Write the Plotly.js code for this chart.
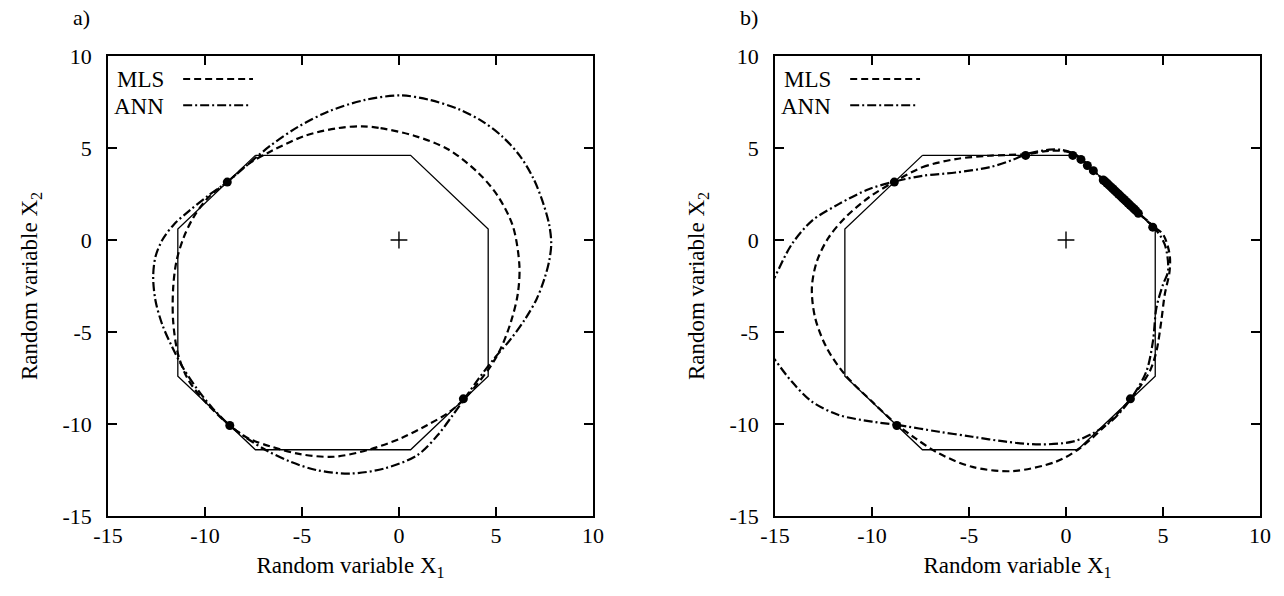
<!DOCTYPE html>
<html>
<head>
<meta charset="utf-8">
<script src="https://cdn.plot.ly/plotly-3.0.1.min.js"></script>
<style>html,body{margin:0;padding:0;background:#fff;}#chart{width:1284px;height:596px;}</style>
</head>
<body>
<div id="chart"></div>
<script>
// ---- data ----
const tickVals = [-15, -10, -5, 0, 5, 10];
const tickText = ['-15', '-10', '-5', '0', '5', '10'];

const octX = [-7.4, 0.6, 4.6, 4.6, 0.6, -7.4, -11.4, -11.4, -7.4];
const octY = [4.6, 4.6, 0.6, -7.4, -11.4, -11.4, -7.4, 0.6, 4.6];

const centerX = [0];
const centerY = [0];

// panel a)
const mlsAX = [-1.9,-0.95,0.78,2.5,4.06,5.09,5.87,6.21,6.12,5.78,5.26,4.66,3.36,2.5,1.47,0.09,-1.63,-3.36,-5.09,-6.55,-7.76,-8.72,-10,-10.86,-11.38,-11.64,-11.64,-11.47,-11.1,-10.6,-9.83,-8.85,-7.76,-6.55,-4.83,-3.1,-1.9];
const mlsAY = [6.18,6.08,5.67,4.95,3.68,2.4,0.76,-1.42,-2.96,-4.42,-5.87,-6.96,-8.65,-9.42,-10.05,-10.78,-11.42,-11.78,-11.64,-11.24,-10.78,-10.08,-8.78,-7.6,-6.24,-4.42,-2.6,-1.15,0.13,1.22,2.31,3.15,4.13,4.85,5.67,6.09,6.18];
const annAX = [0.09,1.64,3.1,4.3,5.35,6.25,6.95,7.45,7.75,7.85,7.75,7.5,7.1,6.5,5.75,4.9,4.1,3.36,2.75,2.0,0.95,-0.77,-2.5,-4.22,-5.6,-6.8,-7.8,-8.72,-9.6,-10.4,-11.1,-11.7,-12.2,-12.55,-12.67,-12.55,-12.2,-11.6,-10.8,-9.85,-8.85,-7.8,-6.6,-5.2,-3.6,-1.8,0.09];
const annAY = [7.86,7.6,7.1,6.45,5.6,4.55,3.3,1.95,0.8,-0.2,-1.1,-2.1,-3.2,-4.3,-5.4,-6.45,-7.55,-8.65,-9.55,-10.6,-11.69,-12.42,-12.69,-12.51,-12.05,-11.45,-10.8,-10.08,-9.15,-8.1,-7.0,-5.8,-4.6,-3.3,-2.0,-0.9,0.0,0.85,1.6,2.4,3.15,4.1,5.15,6.15,7.0,7.6,7.86];
const ptsAX = [-8.85, -8.72, 3.32];
const ptsAY = [3.15, -10.08, -8.63];

// panel b)
const mlsBX = [-8.83,-7.41,-5.69,-3.97,-2.03,-0.86,0,0.43,0.9,1.5,2.2,3.0,3.7,4.48,5.0,5.34,5.34,5.09,4.91,4.66,4.31,3.36,2.07,0.69,-0.52,-2.76,-4.83,-6.55,-7.76,-8.7,-10,-11.38,-12.33,-12.93,-13.1,-12.84,-12.24,-11.38,-10.17,-8.83];
const mlsBY = [3.18,3.95,4.4,4.58,4.67,4.85,4.82,4.67,4.3,3.7,3.0,2.2,1.5,0.76,0.31,-0.78,-1.69,-2.96,-4.42,-6.05,-7.15,-8.6,-10.05,-11.33,-12.05,-12.56,-12.33,-11.6,-10.78,-10.05,-8.78,-7.33,-5.87,-4.24,-2.6,-1.15,0.13,1.22,2.31,3.18];
const annBX = [-15.6,-15.03,-14.14,-13.1,-11.72,-10.17,-8.83,-7.41,-5.69,-3.97,-2.76,-2.03,-0.86,-0.17,0.43,0.9,1.5,2.2,3.0,3.7,4.48,5.09,5.26,5.0,4.66,4.48,4.14,3.36,2.41,1.38,0.34,-1.38,-3.1,-4.83,-6.55,-8.7,-10,-11.72,-13.1,-14.14,-15,-15.6];
const annBY = [-3.2,-2.05,-0.24,1.04,1.95,2.76,3.18,3.49,3.67,3.95,4.35,4.67,4.91,4.89,4.67,4.3,3.7,3.0,2.2,1.5,0.76,-0.24,-1.69,-2.42,-3.69,-5.51,-7.15,-8.6,-9.78,-10.51,-10.96,-11.11,-10.96,-10.69,-10.42,-10.05,-9.87,-9.51,-8.78,-7.69,-6.51,-5.6];
const ptsBX = [-8.85,-8.72,3.32,-2.08,0.35,0.77,1.1,1.41,1.92,2.0,2.1,2.2,2.3,2.4,2.5,2.6,2.7,2.8,2.9,3.0,3.1,3.2,3.3,3.4,3.5,3.6,3.73,4.47];
const ptsBY = [3.15,-10.08,-8.63,4.6,4.6,4.38,4.05,3.77,3.26,3.2,3.1,3.0,2.9,2.8,2.7,2.6,2.5,2.4,2.3,2.2,2.1,2.0,1.9,1.8,1.7,1.6,1.45,0.7];

const legendNames = ['MLS', 'ANN'];
const panelLabels = ['a)', 'b)'];
const xTitle = 'Random variable X<sub>1</sub>';
const yTitle = 'Random variable X<sub>2</sub>';

// ---- styles ----
const FONT = '"Liberation Serif", "Times New Roman", serif';
const TICK_SIZE = 22;
const TITLE_SIZE = 23;
const MLS_DASH = '7px,4px';
const ANN_DASH = '9px,3px,2px,3px';

function panelTraces(xa, ya, mx, my, ax, ay, px, py) {
  return [
    {x: octX, y: octY, xaxis: xa, yaxis: ya, mode: 'lines', line: {color: '#000', width: 1.3}},
    {x: mx, y: my, xaxis: xa, yaxis: ya, mode: 'lines', line: {color: '#000', width: 2.2, dash: MLS_DASH, shape: 'spline', smoothing: 0.9}},
    {x: ax, y: ay, xaxis: xa, yaxis: ya, mode: 'lines', line: {color: '#000', width: 2.2, dash: ANN_DASH, shape: 'spline', smoothing: 0.9}},
    {x: px, y: py, xaxis: xa, yaxis: ya, mode: 'markers', marker: {color: '#000', size: 9, symbol: 'circle'}},
    {x: centerX, y: centerY, xaxis: xa, yaxis: ya, mode: 'markers', marker: {color: '#000', size: 12, symbol: 'cross-thin', line: {color: '#000', width: 1.4}}}
  ];
}

const data = [].concat(
  panelTraces('x', 'y', mlsAX, mlsAY, annAX, annAY, ptsAX, ptsAY),
  panelTraces('x2', 'y2', mlsBX, mlsBY, annBX, annBY, ptsBX, ptsBY)
);

function baseAxis(domain, anchor) {
  return {
    domain: domain, anchor: anchor, range: [-15, 10],
    tickmode: 'array', tickvals: tickVals, ticktext: tickText,
    ticks: 'inside', ticklen: 9, tickwidth: 1.3, tickcolor: '#000',
    showline: true, linewidth: 1.8, linecolor: '#000', mirror: 'ticks',
    showgrid: false, zeroline: false, automargin: false, fixedrange: true,
    tickfont: {family: FONT, size: TICK_SIZE, color: '#000'}
  };
}
function xAxis(domain, anchor) {
  const a = baseAxis(domain, anchor);
  a.ticklabelstandoff = -1;
  a.title = {text: xTitle, standoff: 10, font: {family: FONT, size: TITLE_SIZE, color: '#000'}};
  return a;
}
function yAxis(domain, anchor) {
  const a = baseAxis(domain, anchor);
  a.ticklabelstandoff = 10;
  a.title = {text: yTitle, standoff: 18, font: {family: FONT, size: TITLE_SIZE, color: '#000'}};
  return a;
}

function legendItems(xd, yd) {
  const ann = [
    {text: legendNames[0], xref: xd, yref: yd, x: 0.12, y: 0.948, xanchor: 'right', yanchor: 'middle', showarrow: false, font: {family: FONT, size: TITLE_SIZE, color: '#000'}},
    {text: legendNames[1], xref: xd, yref: yd, x: 0.12, y: 0.891, xanchor: 'right', yanchor: 'middle', showarrow: false, font: {family: FONT, size: TITLE_SIZE, color: '#000'}}
  ];
  const shp = [
    {type: 'line', xref: xd, yref: yd, x0: 0.155, x1: 0.299, y0: 0.950, y1: 0.950, line: {color: '#000', width: 2.2, dash: MLS_DASH}},
    {type: 'line', xref: xd, yref: yd, x0: 0.155, x1: 0.293, y0: 0.893, y1: 0.893, line: {color: '#000', width: 2.2, dash: ANN_DASH}}
  ];
  return {ann, shp};
}
const la = legendItems('x domain', 'y domain');
const lb = legendItems('x2 domain', 'y2 domain');

const layout = {
  width: 1284, height: 596,
  margin: {l: 0, r: 0, t: 0, b: 0},
  paper_bgcolor: '#fff', plot_bgcolor: '#fff',
  showlegend: false,
  font: {family: FONT, size: TICK_SIZE, color: '#000'},
  xaxis: xAxis([0.0841, 0.4618], 'y'),
  yaxis: yAxis([0.1342, 0.906], 'x'),
  xaxis2: xAxis([0.6036, 0.9813], 'y2'),
  yaxis2: yAxis([0.1342, 0.906], 'x2'),
  annotations: [
    {text: panelLabels[0], xref: 'paper', yref: 'paper', x: 0.055, y: 0.97, xanchor: 'left', yanchor: 'middle', showarrow: false, font: {family: FONT, size: TICK_SIZE, color: '#000'}},
    {text: panelLabels[1], xref: 'paper', yref: 'paper', x: 0.575, y: 0.97, xanchor: 'left', yanchor: 'middle', showarrow: false, font: {family: FONT, size: TICK_SIZE, color: '#000'}}
  ].concat(la.ann, lb.ann),
  shapes: la.shp.concat(lb.shp)
};

Plotly.newPlot('chart', data, layout, {staticPlot: true, displayModeBar: false});
</script>
</body>
</html>
